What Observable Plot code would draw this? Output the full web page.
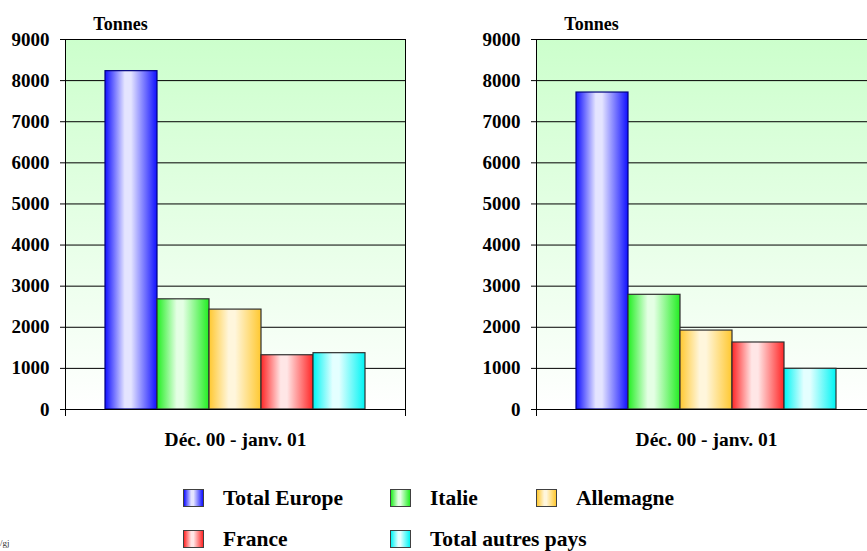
<!DOCTYPE html>
<html>
<head>
<meta charset="utf-8">
<script src="https://cdn.jsdelivr.net/npm/d3@7"></script>
<script src="https://cdn.jsdelivr.net/npm/@observablehq/plot@0.6"></script>
<style>
  html, body { margin: 0; padding: 0; background: #fff; }
  #wrap { position: relative; width: 867px; height: 551px; overflow: hidden; font-family: "Liberation Serif", "Times New Roman", serif; }
  .panel { position: absolute; top: 0; width: 467px; height: 460px; }
  .panel svg { max-width: none !important; }
  .leg { position: absolute; display: flex; align-items: center; font-weight: bold; font-size: 21.5px; color: #000; white-space: nowrap; }
  .sw { width: 19px; height: 16px; border: 1.5px solid #404040; margin-right: 19px; }
  #note { position: absolute; left: 0; top: 538px; font-size: 9px; color: #333; }
</style>
</head>
<body>
<div id="wrap">
  <svg width="0" height="0" style="position:absolute"><defs id="defs"></defs></svg>
  <div id="left" class="panel" style="left:0px"></div>
  <div id="right" class="panel" style="left:471px"></div>
  <div id="legend"></div>
  <div id="note">/gj</div>
</div>
<script>
// ---- data ----
const category = "Déc. 00 - janv. 01";
const unitLabel = "Tonnes";
const series = ["Total Europe", "Italie", "Allemagne", "France", "Total autres pays"];
const leftValues = [8230, 2680, 2430, 1320, 1370];
const rightValues = [7710, 2790, 1920, 1630, 990];
const yTicks = [0, 1000, 2000, 3000, 4000, 5000, 6000, 7000, 8000, 9000];

// ---- styles ----
const FONT = '"Liberation Serif", "Times New Roman", serif';
const edgeColors = ["#1010ff", "#22ee22", "#ffc830", "#ff2626", "#00f4f4"];
const lightColors = ["#e4e4ff", "#e4ffe4", "#fff6dc", "#ffe6e6", "#e4ffff"];
const strokeColors = ["#000080", "#303030", "#303030", "#303030", "#303030"];

// gradients
const defs = d3.select("#defs");
series.forEach((s, i) => {
  const g = defs.append("linearGradient").attr("id", "bar" + i)
    .attr("x1", 0).attr("x2", 1).attr("y1", 0).attr("y2", 0);
  g.append("stop").attr("offset", "0%").attr("stop-color", edgeColors[i]);
  g.append("stop").attr("offset", "38%").attr("stop-color", lightColors[i]);
  g.append("stop").attr("offset", "50%").attr("stop-color", lightColors[i]);
  g.append("stop").attr("offset", "100%").attr("stop-color", edgeColors[i]);
});
const bg = defs.append("linearGradient").attr("id", "bgGrad")
  .attr("x1", 0).attr("x2", 0).attr("y1", 0).attr("y2", 1);
bg.append("stop").attr("offset", "0%").attr("stop-color", "#ccffcc");
bg.append("stop").attr("offset", "100%").attr("stop-color", "#ffffff");

function makeChart(values) {
  const rows = series.map((s, i) => ({series: s, value: values[i], idx: i}));
  return Plot.plot({
    width: 467,
    height: 460,
    marginLeft: 65,
    marginRight: 62,
    marginTop: 39,
    marginBottom: 51,
    style: {fontFamily: FONT, fontSize: "19px", fontWeight: "bold", background: "transparent", color: "#000", overflow: "visible", maxWidth: "none"},
    x: {domain: series, paddingInner: 0, paddingOuter: 0.74, axis: null},
    y: {domain: [0, 9000], ticks: yTicks, label: null},
    color: {type: "identity"},
    marks: [
      Plot.frame({fill: "url(#bgGrad)", stroke: null}),
      Plot.gridY(yTicks, {stroke: "#000", strokeOpacity: 1, strokeWidth: 1}),
      Plot.axisY(yTicks, {tickSize: 5, tickPadding: 11, stroke: "#000", label: null, tickFormat: d => String(d), fontFamily: FONT, fontSize: 19, fontWeight: "bold"}),
      Plot.barY(rows, {x: "series", y: "value", fill: d => "url(#bar" + d.idx + ")", stroke: d => strokeColors[d.idx], strokeWidth: 1.2}),
      Plot.frame({anchor: "top", stroke: "#000"}),
      Plot.frame({anchor: "bottom", stroke: "#000"}),
      Plot.frame({anchor: "left", stroke: "#000", insetBottom: -6}),
      Plot.frame({anchor: "right", stroke: "#000", insetBottom: -6}),
      Plot.text([unitLabel], {frameAnchor: "top-left", dx: 55, dy: -15, text: d => d, textAnchor: "middle", lineAnchor: "middle", fontSize: 18, fontWeight: "bold", fontFamily: FONT}),
      Plot.text([category], {frameAnchor: "bottom", dy: 30, text: d => d, lineAnchor: "middle", fontSize: 19.5, fontWeight: "bold", fontFamily: FONT})
    ]
  });
}

document.getElementById("left").appendChild(makeChart(leftValues));
document.getElementById("right").appendChild(makeChart(rightValues));

// legend
const colX = [183, 390, 536];
const rowY = [498, 539];
const legend = document.getElementById("legend");
series.forEach((s, i) => {
  const row = i < 3 ? 0 : 1;
  const col = i < 3 ? i : i - 3;
  const item = document.createElement("div");
  item.className = "leg";
  item.style.left = colX[col] + "px";
  item.style.top = (rowY[row] - 12) + "px";
  item.style.height = "24px";
  const sw = document.createElement("div");
  sw.className = "sw";
  sw.style.background = `linear-gradient(to right, ${edgeColors[i]} 0%, ${lightColors[i]} 38%, ${lightColors[i]} 50%, ${edgeColors[i]} 100%)`;
  const label = document.createElement("span");
  label.textContent = s;
  item.appendChild(sw);
  item.appendChild(label);
  legend.appendChild(item);
});
</script>
</body>
</html>
